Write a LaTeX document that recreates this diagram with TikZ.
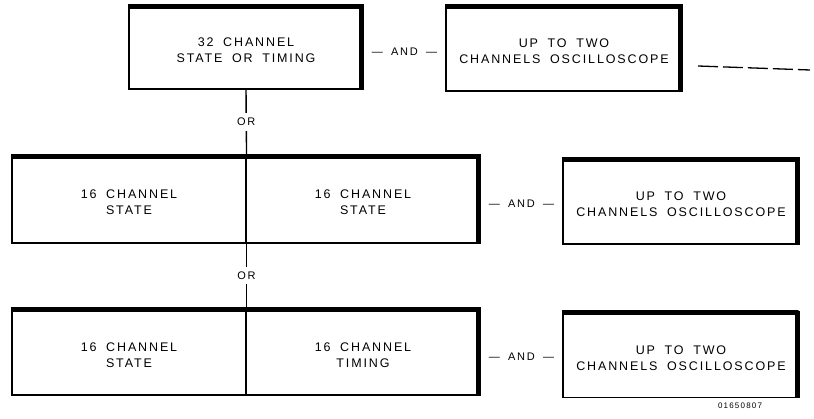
\documentclass[tikz,border=0pt]{standalone}
\usepackage{fontspec}
\setmainfont{Liberation Sans}[LetterSpace=15, WordSpace=1.8]
\newcommand\boxfont{\fontsize{12.5}{16}\selectfont}
\newcommand\andfont{\fontsize{11}{13}\selectfont}
\begin{document}
\begin{tikzpicture}[x=1pt,y=-1pt,
    box/.style={draw, line width=1.1pt, minimum width=236pt, minimum height=86pt,
      inner sep=0pt, align=center, font=\boxfont, text height=34pt, text depth=2pt},
    heavy/.style={line width=5pt, line join=round},
    link/.style={line width=1.4pt},
    orlabel/.style={fill=white, inner xsep=2pt, inner ysep=5pt, font=\andfont},
    andlabel/.style={font=\andfont, yshift=-4pt},
    dashline/.style={line width=1.3pt, dash pattern=on 20pt off 5pt}]
    \useasboundingbox (0,0) rectangle (814,419);

    % Top row: the 32 channel analyzer and its scope
    \node[box, minimum width=234pt, minimum height=84pt] (A32) at (246,47) {32 CHANNEL\\STATE OR TIMING};
    \node[box] (Scope1) at (564,48) {UP TO TWO\\CHANNELS OSCILLOSCOPE};

    % Middle row: two 16 channel state halves
    \node[box, minimum width=234pt, minimum height=88pt] (S1) at (129,199) {16 CHANNEL\\STATE};
    \node[box, minimum width=234pt, minimum height=88pt] (S2) at (363,199) {16 CHANNEL\\STATE};
    \node[box] (Scope2) at (681,201) {UP TO TWO\\CHANNELS OSCILLOSCOPE};

    % Bottom row: state half and timing half
    \node[box, minimum width=234pt, minimum height=87pt] (S3) at (129,351.5) {16 CHANNEL\\STATE};
    \node[box, minimum width=234pt, minimum height=87pt] (T3) at (363,351.5) {16 CHANNEL\\TIMING};
    \node[box] (Scope3) at (681,354.5) {UP TO TWO\\CHANNELS OSCILLOSCOPE};

    % Heavy top and right edges
    \foreach \l/\r in {A32/A32, Scope1/Scope1, S1/S2, Scope2/Scope2, S3/T3, Scope3/Scope3}
      \draw[heavy] ([yshift=-2pt]\l.north west) -- ([shift={(-2pt,-2pt)}]\r.north east)
        -- ([xshift=-2pt]\r.south east);

    % OR links down the middle
    \draw[link] (A32.south) -- node[orlabel] {OR} (S1.north east);
    \draw[link] (S1.south east) -- node[orlabel] {OR} (S3.north east);

    % AND labels between the rows' boxes
    \path (A32) -- node[andlabel] {--- AND ---} (Scope1);
    \path (S2) -- node[andlabel] {--- AND ---} (Scope2);
    \path (T3) -- node[andlabel] {--- AND ---} (Scope3);

    % Dashed lead off to the right
    \coordinate (dashA) at (698,66);
    \coordinate (dashB) at (810,70);
    \draw[dashline] (dashA) -- (dashB);

    \node[font=\fontsize{8}{10}\selectfont] (fignum) at (740,406) {01650807};
\end{tikzpicture}
\end{document}
